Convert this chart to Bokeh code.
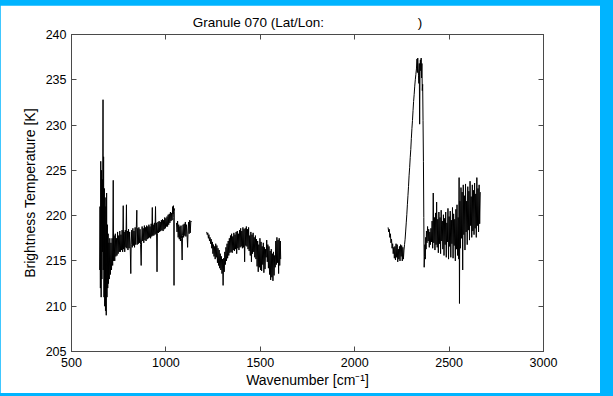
from bokeh.plotting import figure
from bokeh.models import LinearAxis, FixedTicker, ColumnDataSource, CustomLabelingPolicy
from bokeh.layouts import column
from bokeh.embed import file_html
from bokeh.resources import INLINE

# ---------------- data ----------------
x_range = (500, 3000)
y_range = (205, 240)
x_ticks = [500, 1000, 1500, 2000, 2500, 3000]
y_ticks = [205, 210, 215, 220, 225, 230, 235, 240]

wn_lw1 = [649, 651, 653, 655, 657, 659, 661, 663, 665, 667,
          668, 670, 672, 674, 676, 678, 680, 682, 684, 686,
          688, 690, 692, 694, 696, 698, 700, 703, 706, 709,
          712, 715, 718, 721, 723, 726, 729, 732, 735, 738,
          741, 744, 747, 750, 753, 756, 759, 762, 765, 768,
          771, 774, 776, 779, 782, 785, 788, 791, 793, 796,
          799, 802, 805, 808, 811, 814, 816, 819, 822, 825,
          828, 831, 834, 837, 840, 843, 846, 848, 851, 854,
          857, 860, 863, 866, 869, 871, 874, 877, 880, 883,
          886, 889, 892, 895, 898, 901, 904, 907, 910, 913,
          916, 919, 922, 925, 928, 930, 933, 936, 939, 942,
          945, 947, 950, 953, 955, 958, 961, 964, 967, 970,
          973, 976, 979, 982, 985, 988, 991, 994, 997, 1000,
          1003, 1006, 1009, 1012, 1015, 1018, 1021, 1024, 1027, 1030,
          1033, 1036, 1038, 1040, 1042, 1043, 1044, 1046]
bt_lw1 = [214, 221, 212, 226, 211, 225, 213, 224, 216, 232.8,
          214, 226.5, 211, 223, 210, 222, 209.5, 221, 209, 222.5,
          211, 219, 212, 218, 212.5, 217, 213, 217.5, 213.5, 217,
          214, 217.5, 214.5, 223.9, 215, 217.8, 215, 218, 215.5, 217.5,
          215.6, 218.2, 215.8, 217.8, 216, 218.3, 216, 217.9, 216.2, 218.4,
          216, 221.1, 216.3, 218.2, 216, 218.4, 216.5, 221.2, 216.4, 218.3,
          216.2, 218.5, 216.4, 218.2, 216.6, 213.6, 216.8, 218.4, 216.5, 218.6,
          216.7, 218.3, 216.5, 218.7, 216.8, 218.5, 220.6, 216.8, 218.6, 216.9,
          218.7, 217, 218.5, 216.8, 214.5, 217, 218.8, 217.2, 218.6, 217,
          218.9, 217.3, 218.7, 217.2, 218.9, 217.4, 218.8, 217.5, 219, 217.6,
          218.8, 217.5, 219.1, 217.7, 220.9, 217.8, 219, 217.8, 219.2, 217.9,
          221, 218, 219.2, 213.8, 218, 219.3, 218.1, 219.4, 218.2, 219.3,
          218.3, 219.5, 218.4, 219.6, 218.3, 219.5, 218.5, 219.8, 218.6, 219.7,
          218.8, 219.9, 218.8, 220.1, 219, 220.2, 219.2, 220.4, 219.4, 220.3,
          219.5, 221, 220.2, 221.1, 219.8, 212.3, 220.5, 220.8]

wn_lw2 = [1056, 1059, 1062, 1065, 1068, 1071, 1074, 1077, 1080, 1083,
          1086, 1088, 1091, 1094, 1097, 1100, 1103, 1106, 1109, 1112,
          1115, 1117, 1120, 1123, 1126, 1129, 1132, 1135]
bt_lw2 = [219.2, 218.2, 219.4, 217.6, 219, 217.4, 218.8, 217.2, 218.9, 217.5,
          215.1, 217.8, 219, 217.6, 219.1, 217.8, 219.3, 217.7, 219, 217.9,
          216.5, 218, 219.3, 218, 219.5, 218.1, 219.4, 219.3]

wn_mw = [1216, 1219, 1222, 1225, 1228, 1231, 1234, 1237, 1240, 1243,
         1246, 1249, 1252, 1255, 1258, 1261, 1264, 1267, 1270, 1273,
         1276, 1279, 1282, 1285, 1288, 1291, 1294, 1297, 1300, 1303,
         1306, 1309, 1312, 1315, 1318, 1321, 1324, 1327, 1330, 1333,
         1336, 1339, 1342, 1345, 1348, 1351, 1354, 1357, 1360, 1363,
         1366, 1369, 1372, 1375, 1378, 1381, 1384, 1387, 1390, 1393,
         1396, 1399, 1402, 1405, 1408, 1411, 1414, 1417, 1420, 1423,
         1426, 1429, 1432, 1435, 1438, 1441, 1444, 1447, 1450, 1453,
         1456, 1459, 1462, 1465, 1468, 1471, 1474, 1477, 1480, 1483,
         1486, 1489, 1492, 1495, 1498, 1501, 1504, 1507, 1510, 1513,
         1516, 1519, 1522, 1525, 1528, 1531, 1534, 1537, 1540, 1543,
         1546, 1549, 1552, 1555, 1558, 1561, 1564, 1567, 1570, 1573,
         1576, 1579, 1582, 1585, 1588, 1591, 1594, 1597, 1600, 1603,
         1606, 1608]
bt_mw = [218.2, 217.9, 218.1, 217.5, 217.9, 217.2, 217.6, 216.9, 217.4, 216.4,
         217.1, 215.8, 216.8, 215.5, 216.6, 215.2, 216.9, 215.4, 216.7, 214.8,
         216.4, 214.5, 216.2, 214.2, 215.8, 214, 215.5, 213.6, 215.2, 212.3,
         215.3, 213.8, 216, 214.6, 216.5, 215, 216.9, 215.3, 217.2, 215.6,
         217.5, 215.9, 217.8, 216, 218, 215.9, 217.7, 216.2, 218.1, 216.1,
         217.9, 216.3, 218.2, 215.8, 218.3, 216.4, 218, 216.2, 218.4, 216.5,
         218.6, 216.6, 218.3, 216.4, 218.7, 216.5, 218.5, 214.9, 218.6, 216.7,
         218.8, 216.6, 218.5, 216.3, 218.7, 216.1, 217.8, 215.6, 218.2, 214.9,
         217.9, 215.8, 218.1, 216, 217.6, 215.4, 217.8, 215.2, 217.4, 214.4,
         217.2, 213.8, 216.8, 214.3, 217.5, 214, 217.1, 213.9, 216.6, 214.6,
         217, 213.7, 216.5, 214.1, 216.3, 215.4, 217.3, 214.9, 216.8, 214.2,
         216.6, 213.5, 216.1, 212.9, 216.3, 213.2, 215.8, 212.8, 216, 213.4,
         215.6, 214.3, 217.2, 214.6, 217.6, 214.8, 217.3, 213.6, 217.5, 214.5,
         217.2, 215.2]

wn_sw = [2177, 2180, 2183, 2186, 2189, 2192, 2195, 2198, 2201, 2204,
         2207, 2210, 2213, 2216, 2219, 2222, 2225, 2228, 2231, 2234,
         2237, 2240, 2243, 2246, 2249, 2252, 2255, 2258, 2261, 2264,
         2267, 2270, 2273, 2276, 2279, 2282, 2285, 2288, 2291, 2294,
         2297, 2300, 2303, 2306, 2309, 2312, 2315, 2318, 2321, 2324,
         2327, 2330, 2332, 2334, 2336, 2338, 2340, 2342, 2344, 2346,
         2348, 2350, 2352, 2354, 2356, 2358, 2360, 2362, 2364, 2366,
         2368, 2370, 2372, 2374, 2376, 2378, 2380, 2383, 2386, 2389,
         2392, 2395, 2398, 2401, 2404, 2407, 2410, 2413, 2416, 2419,
         2422, 2425, 2428, 2431, 2434, 2437, 2440, 2443, 2446, 2449,
         2452, 2455, 2458, 2461, 2464, 2467, 2470, 2473, 2476, 2479,
         2482, 2485, 2488, 2491, 2494, 2497, 2500, 2503, 2506, 2509,
         2512, 2515, 2518, 2521, 2524, 2527, 2530, 2533, 2536, 2539,
         2542, 2545, 2548, 2551, 2553, 2555, 2557, 2560, 2563, 2566,
         2569, 2572, 2575, 2578, 2581, 2584, 2587, 2590, 2593, 2596,
         2599, 2602, 2605, 2608, 2611, 2614, 2617, 2620, 2623, 2626,
         2629, 2632, 2635, 2638, 2641, 2644, 2647, 2650, 2653, 2656,
         2659, 2662, 2665]
bt_sw = [218.7, 218.2, 218.5, 217.6, 218, 217, 217.4, 216.4, 216.9, 215.8,
         216.5, 215.3, 216.6, 215.1, 216.9, 215.4, 216.8, 214.9, 216.3, 215.2,
         216.6, 215, 216.8, 215.5, 216.7, 215, 216.5, 215.2, 216.2, 216.8,
         217.4, 218.3, 219.2, 220.1, 221.2, 222.2, 223.2, 224.4, 225.3, 226.4,
         227.3, 228.5, 229.6, 230.5, 231.6, 232.6, 233.4, 234.3, 235, 235.6,
         236.2, 237.3, 235.8, 237.4, 236.2, 235.5, 234.6, 236.8, 230.1, 236.5,
         237.2, 236, 237.4, 235.2, 236.8, 233.8, 234.5, 230.5, 226, 219.8,
         214.3, 215.5, 216.8, 215.2, 217.6, 216.3, 218.3, 217, 218.8, 217.2,
         218.5, 216.5, 218.2, 216.8, 218.6, 217.1, 219.4, 216.4, 222.5, 217,
         219.8, 216.2, 220.3, 216.8, 221.5, 216.5, 219.6, 215.9, 220.4, 216.9,
         219.8, 215.8, 220.6, 217.2, 219.4, 216.3, 220.1, 215.6, 219.7, 216.8,
         220.4, 215.4, 219.2, 217.1, 220.8, 215.2, 219.9, 216.6, 220.5, 215.4,
         219.5, 216.9, 220.9, 215.3, 220.2, 216.7, 219.6, 215, 220.7, 216.3,
         221.2, 215.6, 219.8, 215.2, 224.2, 210.3, 221.6, 216.4, 223.1, 217.5,
         222.6, 214, 223.4, 217.9, 222.2, 216.2, 223.5, 218.2, 221.6, 216.8,
         223.2, 218.4, 222.7, 217.3, 223.8, 218.9, 222.1, 217.6, 223.4, 218.3,
         222.8, 217.9, 223.6, 218.6, 222.4, 217.6, 224.2, 218.9, 223, 218.2,
         223.4, 219.1, 222.6]

segments = [(wn_lw1, bt_lw1), (wn_lw2, bt_lw2), (wn_mw, bt_mw), (wn_sw, bt_sw)]

xs, ys = [], []
for wn, bt in segments:
    assert len(wn) == len(bt), (len(wn), len(bt))
    if xs:
        xs.append(float("nan"))
        ys.append(float("nan"))
    xs.extend(wn)
    ys.extend(bt)

# ---------------- styling ----------------
CYAN = "#00B4FF"
AXC = "#4a4a4a"
FONT = "Liberation Sans"
TITLE = "Granule 070 (Lat/Lon:" + "\u00a0" * 25 + ")"

p = figure(width=600, height=388, x_range=x_range, y_range=y_range,
           output_backend="svg", toolbar_location=None,
           min_border_left=71, min_border_right=57,
           min_border_top=29, min_border_bottom=42,
           title=TITLE)
p.margin = (5, 13, 3, 0)
p.background_fill_color = "white"
p.border_fill_color = "white"
p.outline_line_color = AXC
p.grid.visible = False

p.title.align = "center"
p.title.text_font = FONT
p.title.text_font_size = "13.5px"
p.title.text_font_style = "normal"
p.title.text_color = "black"
p.title.standoff = 9

src = ColumnDataSource(dict(x=xs, y=ys))
p.line("x", "y", source=src, line_color="black", line_width=1)

# tick marks only (no labels) on the top and right edges of the box
NO_LABELS = """
const C = indices.constructor;
if (C != null && typeof C.all_unset === "function") {
  return C.all_unset(indices.size);
}
for (const i of Array.from(indices)) { indices.unset(i); }
return indices;
"""


def style(ax, show_labels):
    ax.axis_line_color = AXC
    ax.major_tick_line_color = AXC
    ax.minor_tick_line_color = None
    ax.major_tick_in = 5
    ax.major_tick_out = 0
    ax.major_label_text_font = FONT
    ax.major_label_text_color = "black"
    ax.axis_label_text_font = FONT
    ax.axis_label_text_font_style = "normal"
    ax.axis_label_text_color = "black"
    ax.axis_label_text_font_size = "14px"
    if show_labels:
        ax.major_label_text_font_size = "12.5px"
    else:
        ax.major_label_text_font_size = "0px"
        ax.major_label_standoff = 0
        ax.major_label_policy = CustomLabelingPolicy(code=NO_LABELS)


p.xaxis.ticker = FixedTicker(ticks=x_ticks)
p.yaxis.ticker = FixedTicker(ticks=y_ticks)
p.xaxis.axis_label = "Wavenumber [cm\u207b\u00b9]"
p.yaxis.axis_label = "Brightness Temperature [K]"
style(p.xaxis[0], True)
style(p.yaxis[0], True)
p.xaxis.major_label_standoff = 6
p.xaxis.axis_label_standoff = 2
p.yaxis.major_label_standoff = 5
p.yaxis.axis_label_standoff = 5

top_ax = LinearAxis(ticker=FixedTicker(ticks=x_ticks))
right_ax = LinearAxis(ticker=FixedTicker(ticks=y_ticks))
style(top_ax, False)
style(right_ax, False)
p.add_layout(top_ax, "above")
p.add_layout(right_ax, "right")

layout = column(p, styles={"background-color": CYAN})

open("out.html", "w").write(file_html(layout, INLINE))
